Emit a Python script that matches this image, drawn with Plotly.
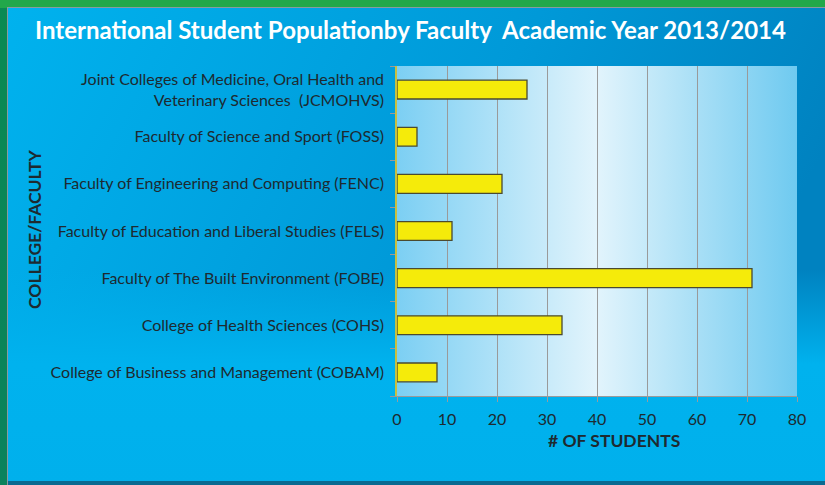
import base64
import plotly.graph_objects as go

categories = [
    "College of Business and Management (COBAM)",
    "College of Health Sciences (COHS)",
    "Faculty of The Built Environment (FOBE)",
    "Faculty of Education and Liberal Studies (FELS)",
    "Faculty of Engineering and Computing (FENC)",
    "Faculty of Science and Sport (FOSS)",
    "Joint Colleges of Medicine, Oral Health and<br>Veterinary Sciences  (JCMOHVS)",
]
students = [8, 33, 71, 11, 21, 4, 26]
x_ticks = [0, 10, 20, 30, 40, 50, 60, 70, 80]

W, H = 825, 485
L, R, T, B = 397, 28, 66, 89
pw, ph = W - L - R, H - T - B


def svg_uri(svg):
    return "data:image/svg+xml;base64," + base64.b64encode(svg.encode()).decode()


panel_svg = f"""<svg xmlns='http://www.w3.org/2000/svg' width='{W}' height='{H}' preserveAspectRatio='none'>
<defs>
<linearGradient id='g' x1='0' y1='0' x2='1' y2='0.3'>
<stop offset='0' stop-color='#00b2ee'/><stop offset='0.6' stop-color='#0099d8'/><stop offset='1' stop-color='#0082c0'/></linearGradient>
<linearGradient id='gb' x1='0' y1='0' x2='0' y2='1'>
<stop offset='0' stop-color='#00b0ec' stop-opacity='0'/><stop offset='0.55' stop-color='#00b0ec' stop-opacity='0'/><stop offset='0.75' stop-color='#00b2ee' stop-opacity='1'/><stop offset='1' stop-color='#00b0ec' stop-opacity='1'/></linearGradient>
<linearGradient id='gr' x1='0' y1='0' x2='1' y2='1'>
<stop offset='0' stop-color='#0a8a52'/><stop offset='1' stop-color='#0a7a66'/></linearGradient>
</defs>
<rect x='0' y='0' width='{W}' height='{H}' fill='url(#gr)'/>
<rect x='0' y='0' width='{W}' height='8' fill='#22a84a'/>
<rect x='7' y='7' width='{W-7}' height='{H-7}' fill='#8a9aa0'/>
<rect x='8' y='8' width='{W-8}' height='{H-10}' fill='url(#g)'/>
<rect x='8' y='8' width='{W-8}' height='{H-10}' fill='url(#gb)'/>
<rect x='8' y='{H-4}' width='{W-8}' height='4' fill='#0a6a90'/>
</svg>"""

plot_svg = f"""<svg xmlns='http://www.w3.org/2000/svg' width='{pw}' height='{ph}' preserveAspectRatio='none'>
<defs><linearGradient id='p' x1='0' y1='0' x2='1' y2='0'>
<stop offset='0' stop-color='#7ccff3'/><stop offset='0.5' stop-color='#e2f4fc'/><stop offset='1' stop-color='#6fcaf0'/></linearGradient></defs>
<rect x='0' y='0' width='{pw}' height='{ph}' fill='url(#p)'/>
</svg>"""

fig = go.Figure()
fig.add_trace(go.Bar(
    x=students, y=categories, orientation="h",
    marker=dict(color="#f5eb0a", line=dict(color="#4a4a30", width=1.3)),
    hoverinfo="x+y",
))

fx = lambda px: (px - L) / pw
fy = lambda py: (H - B - py) / ph

fig.update_layout(
    width=W, height=H,
    margin=dict(l=L, r=R, t=T, b=B, pad=0),
    paper_bgcolor="rgba(0,0,0,0)",
    plot_bgcolor="rgba(0,0,0,0)",
    showlegend=False,
    bargap=0.6,
    font=dict(family="Lato, 'Open Sans', sans-serif", color="#1e2a30"),
    images=[
        dict(source=svg_uri(panel_svg), xref="paper", yref="paper",
             x=fx(0), y=fy(0), sizex=W / pw, sizey=H / ph,
             xanchor="left", yanchor="top", sizing="stretch", layer="below"),
        dict(source=svg_uri(plot_svg), xref="paper", yref="paper",
             x=0, y=1, sizex=1, sizey=1,
             xanchor="left", yanchor="top", sizing="stretch", layer="below"),
    ],
    xaxis=dict(
        range=[0, 80], tickvals=x_ticks, ticks="outside", ticklen=5,
        tickcolor="#9a9a9a", showgrid=True, gridcolor="#9a9a9a", gridwidth=1.2,
        showline=True, linecolor="#9a9a9a", linewidth=1.2, zeroline=False,
        tickfont=dict(size=16, color="#1e2a30"), ticklabelstandoff=4,
        mirror=False, fixedrange=True,
    ),
    yaxis=dict(
        categoryorder="array", categoryarray=categories,
        ticks="outside", tickson="boundaries", ticklen=5, tickcolor="#9a9a9a",
        showline=True, linecolor="#c8c040", linewidth=1.5,
        showgrid=False, tickfont=dict(size=16, color="#1e2a30"),
        ticklabelstandoff=8, fixedrange=True,
    ),
    annotations=[
        dict(text="<b>International Student Populationby Faculty  Academic Year 2013/2014</b>",
             xref="paper", yref="paper", x=fx(410), y=fy(30), xanchor="center", yanchor="middle",
             showarrow=False, font=dict(size=24, color="white")),
        dict(text="<b># OF STUDENTS</b>", xref="paper", yref="paper",
             x=fx(614), y=fy(440), xanchor="center", yanchor="middle",
             showarrow=False, font=dict(size=17.5, color="#1e2a30")),
        dict(text="<b>COLLEGE/FACULTY</b>", xref="paper", yref="paper",
             x=fx(34), y=fy(229), xanchor="center", yanchor="middle", textangle=-90,
             showarrow=False, font=dict(size=17.5, color="#1e2a30")),
    ],
)

fig.write_html(
    "out.html",
    config={"displayModeBar": False},
    post_script="document.body.style.margin='0';document.body.style.overflow='hidden';",
)
